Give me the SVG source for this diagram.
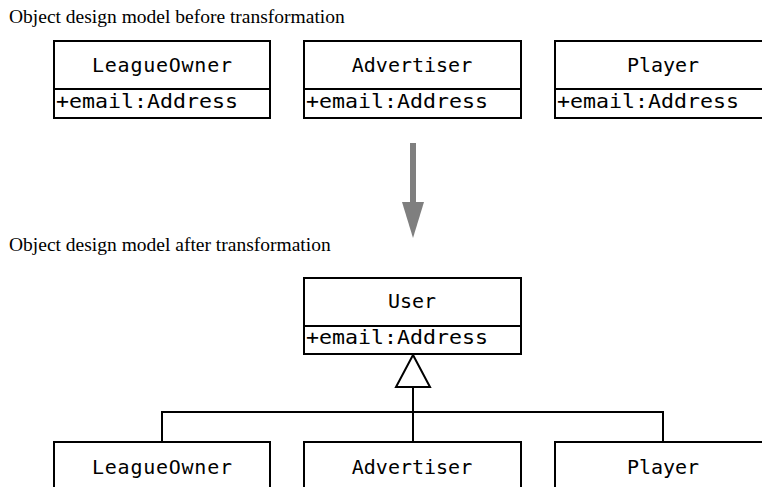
<svg xmlns="http://www.w3.org/2000/svg" width="762" height="487" viewBox="0 0 762 487">
<style>
.title{font-family:"Liberation Serif","Times New Roman",serif;font-size:19.5px;fill:#000}
.box{fill:#fff;stroke:#000;stroke-width:2}
.name{font-family:"DejaVu Sans Mono","Liberation Mono",monospace;font-size:20px;fill:#000;text-anchor:middle}
.attr{font-family:"DejaVu Sans Mono","Liberation Mono",monospace;font-size:20px;fill:#000}
.conn{fill:none;stroke:#000;stroke-width:2}
</style>
<rect width="762" height="487" fill="#fff"/>
<text class="title" x="9" y="23">Object design model before transformation</text>
<text class="title" x="9" y="251">Object design model after transformation</text>

<g id="top-leagueowner">
<rect class="box" x="54" y="41" width="216" height="77"/>
<line class="box" x1="54" y1="89" x2="270" y2="89"/>
<text class="name" x="162" y="72" textLength="140" lengthAdjust="spacing">LeagueOwner</text>
<text class="attr" x="56" y="108" textLength="182" lengthAdjust="spacingAndGlyphs">+email:Address</text>
</g>
<g id="top-advertiser">
<rect class="box" x="304" y="41" width="217" height="77"/>
<line class="box" x1="304" y1="89" x2="521" y2="89"/>
<text class="name" x="412" y="72">Advertiser</text>
<text class="attr" x="306" y="108" textLength="182" lengthAdjust="spacingAndGlyphs">+email:Address</text>
</g>
<g id="top-player">
<rect class="box" x="555" y="41" width="217" height="77"/>
<line class="box" x1="555" y1="89" x2="772" y2="89"/>
<text class="name" x="663" y="72">Player</text>
<text class="attr" x="557" y="108" textLength="182" lengthAdjust="spacingAndGlyphs">+email:Address</text>
</g>

<g id="transform-arrow">
<rect x="410" y="143" width="6" height="62" fill="#7f7f7f"/>
<polygon points="402,202 424,202 413,238" fill="#7f7f7f"/>
</g>

<g id="user">
<rect class="box" x="304" y="278" width="217" height="76"/>
<line class="box" x1="304" y1="326" x2="521" y2="326"/>
<text class="name" x="412" y="308">User</text>
<text class="attr" x="306" y="344" textLength="182" lengthAdjust="spacingAndGlyphs">+email:Address</text>
</g>

<g id="connectors">
<polyline class="conn" points="162,442 162,412 663,412 663,442"/>
<line class="conn" x1="413" y1="387" x2="413" y2="442"/>
<polygon class="conn" fill="#fff" points="413,355 396,387 430,387"/>
</g>

<g id="bottom-leagueowner">
<rect class="box" x="54" y="442" width="216" height="77"/>
<text class="name" x="162" y="474" textLength="140" lengthAdjust="spacing">LeagueOwner</text>
</g>
<g id="bottom-advertiser">
<rect class="box" x="304" y="442" width="217" height="77"/>
<text class="name" x="412" y="474">Advertiser</text>
</g>
<g id="bottom-player">
<rect class="box" x="555" y="442" width="217" height="77"/>
<text class="name" x="663" y="474">Player</text>
</g>
</svg>
